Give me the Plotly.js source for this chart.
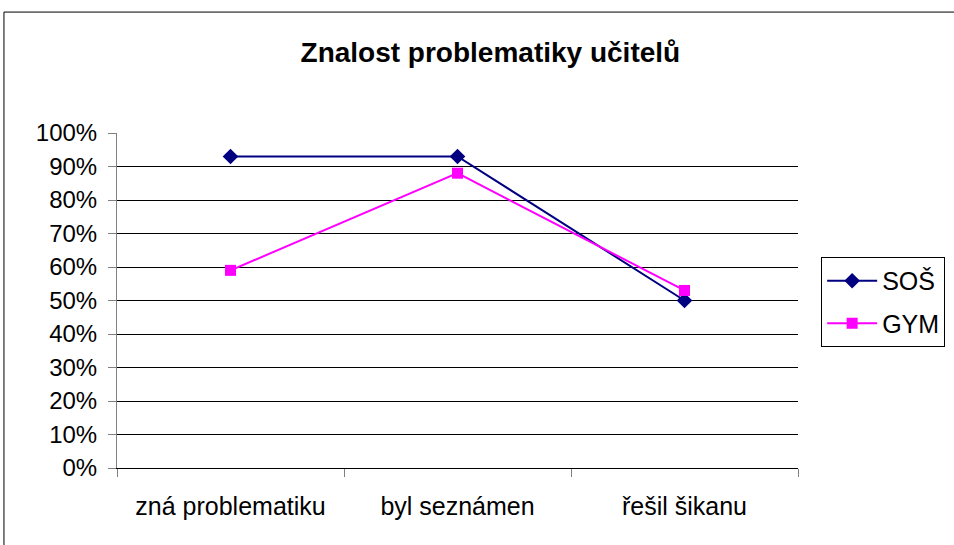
<!DOCTYPE html>
<html>
<head>
<meta charset="utf-8">
<script src="https://cdn.plot.ly/plotly-3.0.1.min.js"></script>
<style>html,body{margin:0;padding:0;background:#fff;}#chart{width:954px;height:545px;}</style>
</head>
<body>
<div id="chart"></div>
<script>
const categories = ["zná problematiku", "byl seznámen", "řešil šikanu"];
const sosValues = [0.93, 0.93, 0.50];
const gymValues = [0.59, 0.88, 0.53];
const yTickVals = [0, 0.1, 0.2, 0.3, 0.4, 0.5, 0.6, 0.7, 0.8, 0.9, 1.0];
const yTickText = ["0%", "10%", "20%", "30%", "40%", "50%", "60%", "70%", "80%", "90%", "100%"];
const gridVals = [0.1, 0.2, 0.3, 0.4, 0.5, 0.6, 0.7, 0.8, 0.9];

const FONT = "Liberation Sans, Arial, sans-serif";

const traces = [
  {x: categories, y: sosValues, name: "SOŠ", type: "scatter", mode: "lines+markers",
   line: {color: "#000080", width: 2}, marker: {symbol: "diamond", size: 12, color: "#000080"},
   legendgroup: "a"},
  {x: categories, y: gymValues, name: "GYM", type: "scatter", mode: "lines+markers",
   line: {color: "#FF00FF", width: 2}, marker: {symbol: "square", size: 11, color: "#FF00FF"},
   legendgroup: "b"},
  {x: categories, y: gridVals.map(() => null), yaxis: "y2", showlegend: false, hoverinfo: "skip", type: "scatter", mode: "lines"}
];

const layout = {
  width: 954, height: 545,
  margin: {l: 117, r: 156, t: 133, b: 77, autoexpand: false},
  paper_bgcolor: "#fff", plot_bgcolor: "#fff",
  font: {family: FONT, size: 24, color: "#000"},
  title: {text: "<b>Znalost problematiky učitelů</b>", x: 0.514, xanchor: "center", y: 0.905, yanchor: "middle",
          font: {family: FONT, size: 28, color: "#000"}},
  xaxis: {type: "category", tickson: "boundaries", ticks: "outside", ticklen: 8, tickcolor: "#808080",
          showgrid: false, showline: true, linecolor: "#000", linewidth: 1, zeroline: false,
          range: [-0.5, 2.5], ticklabelstandoff: 16, tickfont: {family: FONT, size: 25}},
  yaxis: {range: [0, 1], tickvals: yTickVals, ticktext: yTickText, ticks: "outside", ticklen: 8,
          tickcolor: "#808080", showgrid: false, showline: true, linecolor: "#808080", linewidth: 1,
          zeroline: false, ticklabelstandoff: 6, tickfont: {family: FONT, size: 24}},
  yaxis2: {range: [0, 1], overlaying: "y", tickvals: gridVals, showticklabels: false, ticks: "",
           showgrid: true, gridcolor: "#000", gridwidth: 1, zeroline: false, showline: false, layer: "below traces"},
  showlegend: true,
  legend: {x: 1.034, xanchor: "left", y: 0.63, yanchor: "top", bgcolor: "#fff", bordercolor: "#000", borderwidth: 1,
           font: {family: FONT, size: 25}, traceorder: "grouped", tracegroupgap: 7, itemwidth: 50},
  shapes: [
    {type: "rect", xref: "paper", yref: "paper", x0: -0.166, x1: 1.6, y0: -0.6, y1: 1.361,
     line: {color: "#000", width: 1}, fillcolor: "rgba(0,0,0,0)", layer: "below"}
  ]
};

Plotly.newPlot("chart", traces, layout, {staticPlot: true, displayModeBar: false});
</script>
</body>
</html>
